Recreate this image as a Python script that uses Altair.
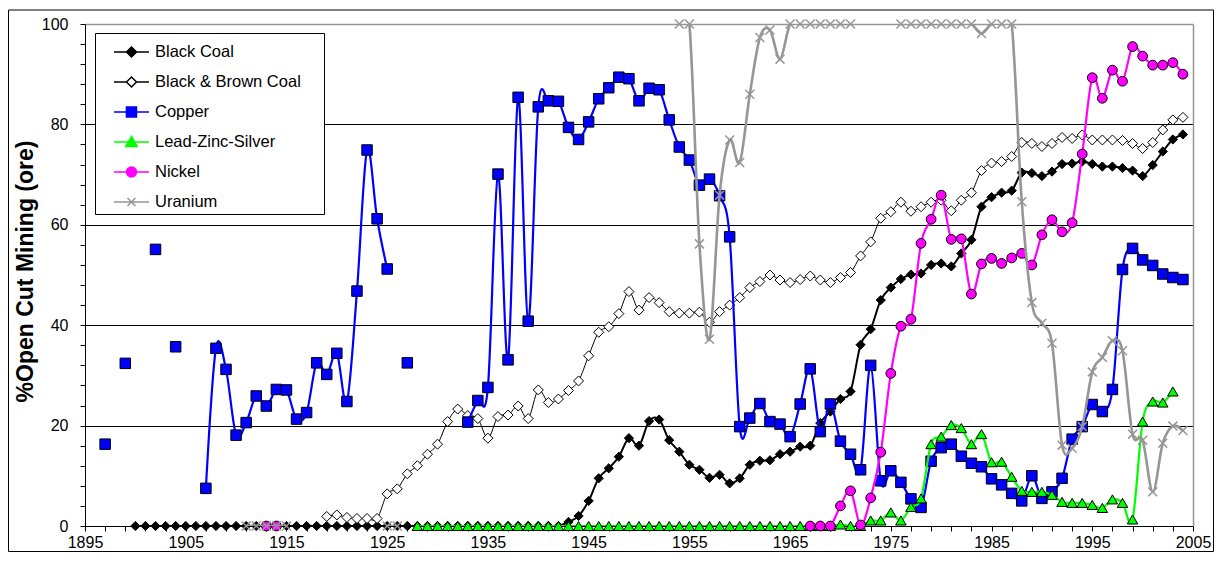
import altair as alt
import pandas as pd

# ---------------- data ----------------
names = ["Black Coal", "Black & Brown Coal", "Copper", "Lead-Zinc-Silver", "Nickel", "Uranium"]

black_coal_years = list(range(1900, 2005))
black_coal = [0, 0, 0, 0, 0, 0, 0, 0, 0, 0,
              0, 0, 0, 0, 0, 0, 0, 0, 0, 0,
              0, 0, 0, 0, 0, 0, 0, 0, 0, 0,
              0, 0, 0, 0, 0, 0, 0, 0, 0, 0,
              0, 0, 0,
              0.8, 2.0, 5.0, 9.5, 11.5, 13.8, 17.5, 16.0, 20.9, 21.2,
              17.1, 14.8, 12.2, 11.2, 9.6, 10.2, 8.5, 9.5, 12.2, 13.0,
              13.1, 14.3, 14.8, 15.8, 16.0, 20.5, 22.8, 25.3, 26.8, 36.1,
              39.2, 45.0, 47.5, 49.2, 50.1, 50.3, 52.0, 52.3, 51.7, 54.3,
              57.0, 63.6, 65.5, 66.4, 66.8, 70.4, 70.3, 69.7, 70.6, 72.1,
              72.2, 72.6, 72.1, 71.6, 71.6, 71.3, 70.8, 69.7, 71.9, 74.6,
              77.0, 78.0]

bb_coal_years = list(range(1919, 2005))
bb_coal = [1.9, 2.2, 1.7, 1.5, 1.5, 1.5, 6.4, 7.4, 10.4, 12.0,
           14.3, 16.3, 20.8, 23.3, 22.0, 21.4, 17.5, 21.8, 22.1, 23.9,
           21.4, 27.1, 24.6, 25.3, 27.0, 28.9, 33.9, 38.6, 39.7, 42.3,
           46.7, 43.0, 45.5, 44.5, 42.7, 42.4, 42.4, 42.6, 40.6, 42.7,
           44.0, 45.5, 47.5, 48.7, 50.0, 49.0, 48.5, 49.1, 49.8, 49.0,
           48.5, 49.5, 50.5, 53.8, 56.6, 61.3, 62.6, 64.5, 62.7, 63.6,
           64.5, 64.9, 62.8, 64.9, 66.4, 70.8, 72.3, 72.6, 73.6, 76.4,
           76.2, 75.6, 76.2, 77.4, 77.2, 77.9, 76.9, 76.9, 76.9, 76.8,
           76.2, 75.2, 76.4, 78.9, 80.9, 81.4]

copper_years = [1897, 1899, 1902, 1904] + list(range(1907, 1926)) + [1927] + list(range(1933, 2005))
copper = [16.3, 32.4, 55.1, 35.7,
          7.5, 35.4, 31.2, 18.1, 20.6, 25.9, 23.9, 27.2, 27.1, 21.3,
          22.6, 32.5, 30.2, 34.4, 24.8, 46.8, 74.9, 61.2, 51.2,
          32.5,
          20.7, 25.0, 27.6, 70.1, 33.1, 85.4, 40.8, 83.5, 84.7, 84.6,
          79.4, 77.0, 80.5, 85.1, 87.3, 89.4, 89.1, 84.7, 87.2, 86.9,
          80.9, 75.5, 72.9, 67.9, 69.1, 65.8, 57.6, 19.8, 21.5, 24.4,
          20.8, 20.3, 17.8, 24.3, 31.3, 18.8, 24.3, 16.9, 14.3, 11.2,
          32.0, 9.0, 11.0, 8.7, 5.4, 3.7, 12.9, 15.6, 16.3, 13.9,
          12.5, 11.8, 9.4, 8.2, 6.5, 5.0, 10.0, 5.5, 6.8, 9.5,
          17.3, 19.8, 24.2, 22.8, 27.2, 51.1, 55.3, 53.0, 51.9, 50.2,
          49.5, 49.1]

lzs_years = list(range(1928, 2004))
lzs = [0, 0, 0, 0, 0, 0, 0, 0, 0, 0,
       0, 0, 0, 0, 0, 0, 0, 0, 0, 0,
       0, 0, 0, 0, 0, 0, 0, 0, 0, 0,
       0, 0, 0, 0, 0, 0, 0, 0, 0, 0,
       0, 0,
       0.3, 0, 0, 1.1, 1.1, 2.7, 1.1, 3.8, 5.5, 16.3,
       17.8, 20.1, 19.5, 16.3, 18.3, 12.7, 12.8, 9.8, 7.0, 6.8,
       6.8, 6.2, 4.8, 4.6, 4.6, 4.2, 3.6, 5.3, 4.6, 1.3,
       20.8, 24.8, 24.6, 26.8]

nickel_years = [1913, 1914] + list(range(1967, 2005))
nickel = [0, 0,
          0, 0, 0, 4.0, 7.0, 0.2, 5.6, 14.7, 30.4, 39.8,
          41.2, 56.3, 61.1, 65.9, 57.1, 57.2, 46.2, 52.2, 53.3, 52.3,
          53.4, 54.3, 52.0, 58.0, 61.0, 58.6, 60.4, 74.1, 89.3, 85.2,
          90.8, 88.6, 95.5, 93.6, 91.8, 91.8, 92.3, 90.0]

uranium_years = list(range(1911, 1916)) + [1925, 1926] + list(range(1954, 1972)) + list(range(1976, 2005))
uranium = [0, 0, 0, 0, 0,
           0, 0,
           100, 100, 56.2, 37.2, 65.9, 76.9, 72.4, 86.0, 97.3, 98.8,
           93.0, 100, 100, 100, 100, 100, 100, 100,
           100, 100, 100, 100, 100, 100, 100, 100, 98.1, 100,
           100, 100, 64.6, 44.5, 40.4, 36.4, 16.1, 15.5, 19.8, 30.7,
           33.6, 36.9, 34.9, 18.3, 17.1, 6.8, 16.5, 19.9, 19.0]

x_tick_values = list(range(1895, 2006, 2))
y_tick_values = list(range(0, 101, 4))

series_data = [
    (black_coal_years, black_coal),
    (bb_coal_years, bb_coal),
    (copper_years, copper),
    (lzs_years, lzs),
    (nickel_years, nickel),
    (uranium_years, uranium),
]

# ---------------- styles ----------------
GRAY = "#969696"
X_PATH = "M-1,-1L1,1M-1,1L1,-1"
styles = [
    dict(line="black", lw=2.0, shape="diamond", fill="black", stroke="black", size=85, sw=1, filled=True),
    dict(line="black", lw=1.0, shape="diamond", fill="white", stroke="black", size=100, sw=1, filled=True),
    dict(line="#0000FF", lw=2.2, shape="square", fill="#0000FF", stroke="black", size=110, sw=1, filled=True),
    dict(line="#00FF00", lw=2.2, shape="triangle-up", fill="#00FF00", stroke="black", size=110, sw=1, filled=True),
    dict(line="#FF00FF", lw=2.2, shape="circle", fill="#FF00FF", stroke="black", size=95, sw=1, filled=True),
    dict(line=GRAY, lw=2.6, shape=X_PATH, fill="transparent", stroke=GRAY, size=80, sw=1.5, filled=False),
]

legend_paths = [
    "M0,0H0.83M1.5,0H2.33M0.83,0L1.167,-0.333L1.5,0L1.167,0.333Z",
    "M0,0H0.83M1.5,0H2.33M0.83,0L1.167,-0.333L1.5,0L1.167,0.333Z",
    "M0,0H0.83M1.5,0H2.33M0.83,-0.333H1.5V0.333H0.83Z",
    "M0,0H0.954M1.379,0H2.33M1.167,-0.37L1.55,0.3H0.78Z",
    "M0,0H0.833M1.5,0H2.33M0.833,0A0.333,0.333,0,1,0,1.5,0A0.333,0.333,0,1,0,0.833,0Z",
    "M0,0H2.33M0.9,-0.27L1.43,0.27M0.9,0.27L1.43,-0.27",
]
legend_fills = ["black", "white", "#0000FF", "#00FF00", "#FF00FF", "transparent"]
legend_strokes = ["black", "black", "#0000FF", "#00FF00", "#FF00FF", GRAY]


def to_frame(years, values):
    assert len(years) == len(values), (len(years), len(values))
    seg, prev, segs = 0, None, []
    for yr in years:
        if prev is None or yr - prev > 1:
            seg += 1
        segs.append(seg)
        prev = yr
    return pd.DataFrame({"year": years, "value": values, "seg": segs})


W, H = 1108, 502
FONT = "Liberation Sans"

x_scale = alt.Scale(domain=[1895, 2005], nice=False, zero=False)
y_scale = alt.Scale(domain=[0, 100], nice=False)

x_axis = alt.Axis(
    orient="bottom",
    values=x_tick_values,
    labelExpr="(datum.value - 1895) % 10 === 0 ? datum.label : ''",
    format="d", grid=False, tickSize=5, tickColor="black", tickWidth=1,
    domainColor="black", domainWidth=1, labelFont=FONT, labelFontSize=16,
    labelColor="black", labelPadding=3, title=None, labelFlush=False,
    labelOverlap=False,
)
y_axis = alt.Axis(
    orient="left",
    values=y_tick_values,
    labelExpr="datum.value % 20 === 0 ? datum.label : ''",
    grid=True,
    gridColor={"condition": {"test": "datum.value === 100", "value": GRAY}, "value": "black"},
    gridOpacity={"condition": {"test": "datum.value % 20 !== 0", "value": 0}, "value": 1},
    gridWidth={"condition": {"test": "datum.value === 100", "value": 1.5}, "value": 1},
    tickSize=5, tickColor="black", domainColor="black", domainWidth=1,
    labelFont=FONT, labelFontSize=16, labelColor="black", labelPadding=12,
    title="%Open Cut Mining (ore)", titleFont=FONT, titleFontSize=23,
    titleFontWeight="bold", titleColor="black", titleAngle=270,
    titleX=-60, titleY=H / 2 - 4, titleAlign="center", titleBaseline="middle",
)
right_axis = alt.Axis(orient="right", domain=True, domainColor=GRAY, domainWidth=1.5,
                      ticks=False, labels=False, grid=False, title=None)

legend = alt.Legend(
    title="\u00a0", titleOrient="right", titlePadding=20, titleFontSize=8,
    orient="none", legendX=10, legendY=9, padding=3,
    strokeColor="black", fillColor="white", symbolSize=900,
    symbolStrokeWidth=1.5, symbolOpacity=1, labelFont=FONT, labelFontSize=16.5,
    labelColor="black", labelOffset=25, rowPadding=5,
)

# frame around the whole chart (decoration)
frame = alt.Chart(pd.DataFrame({"k": [0]})).mark_rect(
    fill="transparent", stroke="black", strokeWidth=1
).encode(
    x=alt.value(-76.5), x2=alt.value(W + 20.5), y=alt.value(-14), y2=alt.value(H + 25.5)
)

legend_df = pd.DataFrame({"series": names, "year": [float("nan")] * 6, "value": [float("nan")] * 6})
legend_layer = alt.Chart(legend_df).mark_point(filled=True, opacity=1, strokeWidth=1.5).encode(
    x=alt.X("year:Q", scale=x_scale, axis=x_axis),
    y=alt.Y("value:Q", scale=y_scale, axis=y_axis),
    shape=alt.Shape("series:N", scale=alt.Scale(domain=names, range=legend_paths), legend=legend),
    fill=alt.Fill("series:N", scale=alt.Scale(domain=names, range=legend_fills), legend=legend),
    stroke=alt.Stroke("series:N", scale=alt.Scale(domain=names, range=legend_strokes), legend=legend),
)

layers = [frame, legend_layer]
for i, ((yrs, vals), st) in enumerate(zip(series_data, styles)):
    df = to_frame(yrs, vals)
    line = alt.Chart(df).mark_line(
        interpolate="cardinal", color=st["line"], strokeWidth=st["lw"], clip=True
    ).encode(
        x=alt.X("year:Q", scale=x_scale, axis=None),
        y=alt.Y("value:Q", scale=y_scale, axis=(right_axis if i == 0 else None)),
        detail="seg:N",
    )
    pts = alt.Chart(df).mark_point(
        shape=st["shape"], filled=st["filled"], fill=st["fill"], stroke=st["stroke"],
        strokeWidth=st["sw"], size=st["size"], opacity=1,
    ).encode(
        x=alt.X("year:Q", scale=x_scale, axis=None),
        y=alt.Y("value:Q", scale=y_scale, axis=None),
    )
    layers += [line, pts]

chart = alt.layer(*layers).resolve_axis(x="independent", y="independent").properties(
    width=W, height=H,
    autosize=alt.AutoSizeParams(type="none"),
    padding={"left": 77, "top": 16, "right": 21, "bottom": 26},
).configure(font=FONT).configure_view(stroke="transparent")

chart.save("out.html", embed_options={"renderer": "svg", "actions": False})
